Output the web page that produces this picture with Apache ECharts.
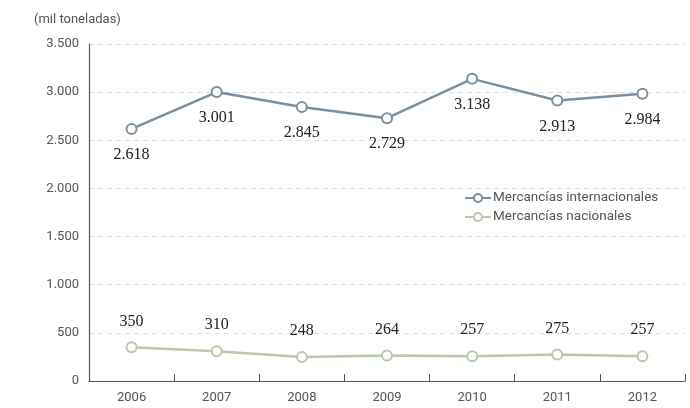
<!DOCTYPE html>
<html>
<head>
<meta charset="utf-8">
<script src="https://cdn.jsdelivr.net/npm/echarts@6/dist/echarts.min.js"></script>
<style>
  html, body { margin: 0; padding: 0; background: #fff; }
  #main { width: 690px; height: 408px; }
</style>
</head>
<body>
<div id="main"></div>
<script>
var years = ['2006', '2007', '2008', '2009', '2010', '2011', '2012'];
var internacionales = [2618, 3001, 2845, 2729, 3138, 2913, 2984];
var nacionales = [350, 310, 248, 264, 257, 275, 257];
var yTicks = [0, 500, 1000, 1500, 2000, 2500, 3000, 3500];

var fmt = function (v) {
    return String(v).replace(/\B(?=(\d{3})+(?!\d))/g, '.');
};

var chart = echarts.init(document.getElementById('main'));

chart.setOption({
    animation: false,
    textStyle: { fontFamily: 'Roboto' },
    title: {
        text: '(mil toneladas)',
        left: 29,
        top: 8,
        textStyle: { fontSize: 13, fontWeight: 'normal', color: '#555' }
    },
    legend: {
        orient: 'vertical',
        left: 460,
        top: 191,
        itemWidth: 26,
        itemHeight: 10,
        itemGap: 5,
        backgroundColor: '#fff',
        padding: [0, 4, 0, 4],
        textStyle: { fontSize: 13.5, color: '#555', padding: [0, 0, 0, -3] },
        data: ['Mercancías internacionales', 'Mercancías nacionales']
    },
    grid: { left: 89, right: 5, top: 44, bottom: 27 },
    xAxis: {
        type: 'category',
        data: years,
        boundaryGap: true,
        axisLine: { lineStyle: { color: '#555', width: 1.2 } },
        axisTick: { show: true, inside: true, length: 7, lineStyle: { color: '#555' } },
        axisLabel: { fontSize: 13, color: '#555', margin: 10 }
    },
    yAxis: {
        type: 'value',
        min: yTicks[0],
        max: yTicks[yTicks.length - 1],
        interval: 500,
        axisLine: { show: true, lineStyle: { color: '#555', width: 1.2 } },
        axisTick: { show: false },
        axisLabel: { fontSize: 13, color: '#555', margin: 10, formatter: fmt },
        splitLine: { lineStyle: { color: '#ddd', type: [5, 4] } }
    },
    series: [
        {
            name: 'Mercancías internacionales',
            type: 'line',
            data: internacionales,
            color: '#7b8fa0',
            symbol: 'emptyCircle',
            symbolSize: 10,
            lineStyle: { width: 2.5 },
            itemStyle: { borderWidth: 2, color: '#7b8fa0' },
            label: {
                show: true,
                position: 'bottom',
                distance: 12,
                fontFamily: 'Liberation Serif',
                fontSize: 16,
                color: '#222',
                formatter: function (p) { return fmt(p.value); }
            }
        },
        {
            name: 'Mercancías nacionales',
            type: 'line',
            data: nacionales,
            color: '#b9c9ae',
            symbol: 'emptyCircle',
            symbolSize: 10,
            lineStyle: { width: 2.5 },
            itemStyle: { borderWidth: 2, color: '#b9c9ae' },
            label: {
                show: true,
                position: 'top',
                distance: 12,
                fontFamily: 'Liberation Serif',
                fontSize: 16,
                color: '#222'
            }
        }
    ]
});
</script>
</body>
</html>
